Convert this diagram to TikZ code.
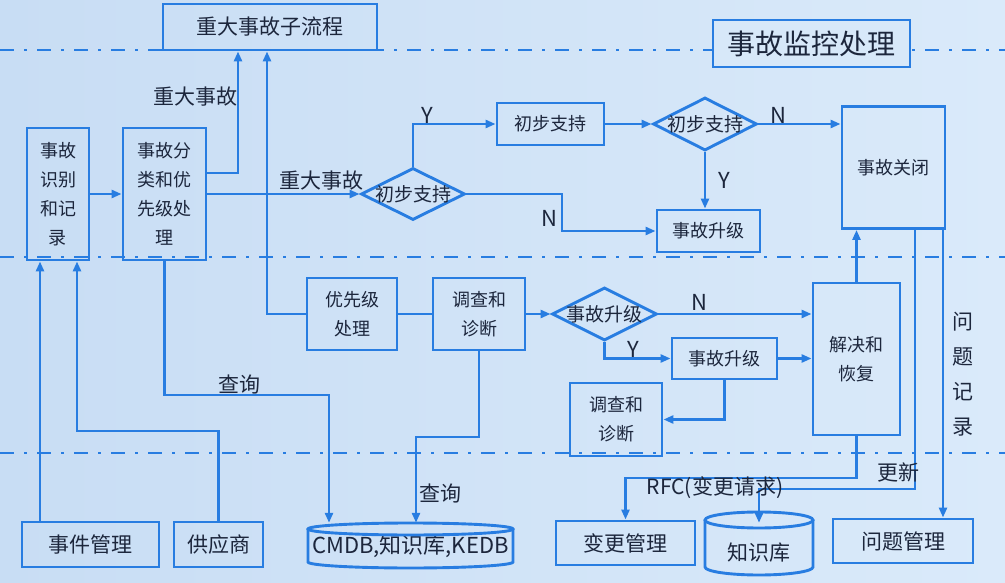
\documentclass[tikz,border=0pt]{standalone}
\usepackage{fontspec}
\setmainfont{Noto Sans CJK SC}
\usetikzlibrary{shapes.geometric,arrows.meta,calc}
\definecolor{lb}{RGB}{40,125,225}
\definecolor{bgA}{RGB}{200,221,244}
\definecolor{bgB}{RGB}{218,234,250}
\definecolor{txt}{RGB}{28,38,60}
\begin{document}
\begin{tikzpicture}[x=1pt,y=-1pt,
  box/.style={draw=lb, line width=2.9pt, inner sep=0pt, text=txt, align=center, font=\fontsize{18}{29}\selectfont},
  dia/.style={diamond, draw=lb, line width=2.9pt, inner sep=0pt},
  conn/.style={draw=lb, line width=2.9pt},
  arr/.style={conn, -{Triangle[length=10pt,width=8pt]}},
  lbl/.style={text=txt, inner sep=0pt, font=\fontsize{21}{21}\selectfont},
  yn/.style={text=txt, inner sep=0pt, font=\fontsize{22}{22}\selectfont},
  dtxt/.style={text=txt, inner sep=0pt, font=\fontsize{19}{19}\selectfont},
  sepline/.style={draw=lb, line width=2.9pt, dash pattern=on 14pt off 10pt on 3pt off 10pt}]
\useasboundingbox (0,0) rectangle (1005,583);
\shade[left color=bgA, right color=bgB] (0,0) rectangle (1005,583);
% separator lines
\draw[sepline] (0,50) -- (1005,50);
\draw[sepline] (0,257) -- (1005,257);
\draw[sepline] (0,453) -- (1005,453);
% nodes
\node[box, minimum width=214pt, minimum height=46pt, font=\fontsize{21}{21}\selectfont] (major) at (270,27) {重大事故子流程};
\node[box, fill=bgB!85!bgA, minimum width=197pt, minimum height=47pt, font=\fontsize{28}{28}\selectfont] (title) at (811.5,43.5) {事故监控处理};
\node[box, minimum width=62pt, minimum height=132pt] (rec) at (58,194) {事故\\识别\\和记\\录};
\node[box, minimum width=83pt, minimum height=132pt] (cls) at (164.5,194) {事故分\\类和优\\先级处\\理};
\node[dia, minimum width=104pt, minimum height=52pt, label={[dtxt]center:初步支持}] (d1) at (413,194) {};
\node[box, minimum width=107pt, minimum height=42pt] (sup) at (550.5,124) {初步支持};
\node[dia, minimum width=104pt, minimum height=53pt, label={[dtxt]center:初步支持}] (d2) at (705,124) {};
\node[box, minimum width=103pt, minimum height=122pt] (close) at (893.5,167.5) {事故关闭};
\node[box, minimum width=103pt, minimum height=42pt] (esc1) at (708.5,231) {事故升级};
\node[box, minimum width=90pt, minimum height=72pt] (pri) at (352,314) {优先级\\处理};
\node[box, minimum width=92pt, minimum height=72pt] (inv1) at (479,314) {调查和\\诊断};
\node[dia, minimum width=105pt, minimum height=53pt, label={[dtxt]center:事故升级}] (d3) at (604.5,314) {};
\node[box, minimum width=87pt, minimum height=152pt] (res) at (856.5,359) {解决和\\恢复};
\node[box, minimum width=105pt, minimum height=41pt] (esc2) at (724.5,358.5) {事故升级};
\node[box, minimum width=92pt, minimum height=73pt] (inv2) at (616,419.5) {调查和\\诊断};
\node[box, minimum width=137pt, minimum height=45pt, font=\fontsize{21}{21}\selectfont] (evt) at (90.5,544.5) {事件管理};
\node[box, minimum width=89pt, minimum height=45pt, font=\fontsize{21}{21}\selectfont] (sup2) at (218.5,544.5) {供应商};
\node[box, minimum width=139pt, minimum height=44pt, font=\fontsize{21}{21}\selectfont] (chg) at (625.5,543) {变更管理};
\node[box, minimum width=140pt, minimum height=44pt, font=\fontsize{21}{21}\selectfont] (prob) at (903,541) {问题管理};
% cylinders
\node[lbl, minimum width=205pt, minimum height=47pt, font=\fontsize{22}{22}\selectfont] (cmdb) at (410.5,546.5) {CMDB,知识库,KEDB};
\draw[conn] (410.5,529) ellipse [x radius=102.5pt, y radius=6pt];
\draw[conn] (308,529) -- (308,562) arc[start angle=180, end angle=360, x radius=102.5pt, y radius=6pt] -- (513,529);
\node[inner sep=0pt, minimum width=108pt, minimum height=64pt, label={[lbl, yshift=-9pt]center:知识库}] (kb) at (759,544) {};
\draw[conn] (759,520) ellipse [x radius=54pt, y radius=8pt];
\draw[conn] (705,520) -- (705,567) arc[start angle=180, end angle=360, x radius=54pt, y radius=8pt] -- (813,520);
% bend coordinates
\coordinate (b1) at (238,173);
\coordinate (b2) at (267,314);
\coordinate (b3) at (562,231);
\coordinate (b4) at (915,489);
\coordinate (b5) at (943,300);
\coordinate (b6) at (857,478);
\coordinate (b7) at (40,400);
\coordinate (b8) at (77,431);
\coordinate (b9) at (329,395);
\coordinate (b10) at (416,437);
% connectors
\draw[arr] (rec) -- (cls);
\draw[arr] (cls.east |- b1) -- (b1) -- (b1 |- major.south);
\draw[arr] (pri.west) -- (b2) -- (b2 |- major.south);
\draw[arr] (cls.east) -- (d1.west);
\draw[arr] (d1.north) |- (sup.west);
\draw[arr] (sup.east) -- (d2.west);
\draw[arr] (d2.east) -- (close.west |- d2.east);
\draw[arr] (d2.south) -- (d2.south |- esc1.north);
\draw[arr] (d1.east) -| (b3) -- (esc1.west);
\draw[conn] (pri.east) -- (inv1.west);
\draw[arr] (inv1.east) -- (d3.west);
\draw[arr] (d3.east) -- (res.west |- d3.east);
\draw[arr] (d3.south) |- (esc2.west);
\draw[arr] (esc2.east) -- (res.west |- esc2.east);
\draw[arr] (esc2.south) |- (inv2.east);
\draw[arr] (res.north) -- (res.north |- close.south);
\draw[arr] (b4 |- close.south) -- (b4) -| ([yshift=-11pt]kb.north);
\draw[arr] (b5 |- close.south) -- (b5 |- prob.north);
\draw[arr] (res.south) -- (res.south |- b6) -| (chg.north);
\draw[arr] (b7 |- evt.north) -- (b7 |- rec.south);
\draw[arr] (sup2.north) |- (b8) -- (b8 |- rec.south);
\draw[arr] (cls.south) |- (b9) -- (b9 |- cmdb.north);
\draw[arr] (inv1.south) |- (b10) -- (b10 |- cmdb.north);
% labels
\node[lbl] (l1) at (195,97) {重大事故};
\node[lbl] (l2) at (321,181) {重大事故};
\node[yn] (y1) at (427,115) {Y};
\node[yn] (y2) at (724,180) {Y};
\node[yn] (n1) at (778,115) {N};
\node[yn] (n2) at (549,218) {N};
\node[yn] (n3) at (699,302) {N};
\node[yn] (y3) at (633,349) {Y};
\node[lbl] (q1) at (239,384) {查询};
\node[lbl] (q2) at (440,493) {查询};
\node[lbl] (upd) at (898,472) {更新};
\node[lbl] (rfc) at (715,488) {RFC(变更请求)};
\node[lbl, align=center, font=\fontsize{21}{35}\selectfont] (pr) at (963,374.5) {问\\题\\记\\录};
\end{tikzpicture}
\end{document}
